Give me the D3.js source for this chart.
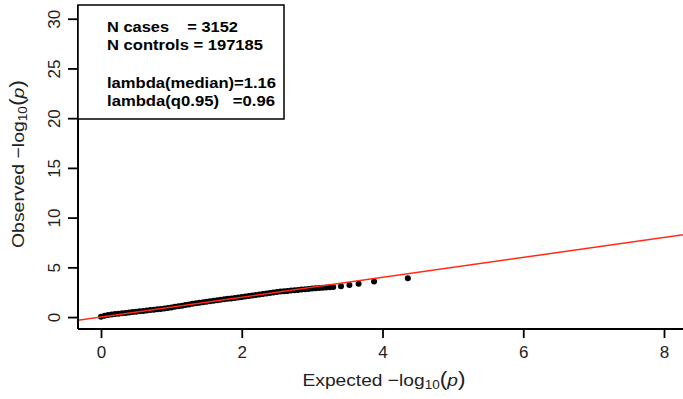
<!DOCTYPE html>
<html>
<head>
<meta charset="utf-8">
<script src="https://cdn.jsdelivr.net/npm/d3@7"></script>
<style>
  body { margin: 0; background: #fff; }
  text { font-family: "Liberation Sans", Arial, Helvetica, sans-serif; }
</style>
</head>
<body>
<div id="chart"></div>
<script>

// expected / observed -log10(p)
var expected = [0.00, 0.05, 0.10, 0.15, 0.20, 0.25, 0.30, 0.35, 0.40, 0.45,
    0.50, 0.55, 0.60, 0.65, 0.70, 0.75, 0.80, 0.85, 0.90, 0.95,
    1.00, 1.05, 1.10, 1.15, 1.20, 1.25, 1.30, 1.35, 1.40, 1.45,
    1.50, 1.55, 1.60, 1.65, 1.70, 1.75, 1.80, 1.85, 1.90, 1.95,
    2.00, 2.05, 2.10, 2.15, 2.20, 2.25, 2.30, 2.35, 2.40, 2.45,
    2.50, 2.55, 2.60, 2.65, 2.70, 2.75, 2.80, 2.85, 2.90, 2.95,
    3.00, 3.05, 3.10, 3.15, 3.20, 3.25, 3.30, 3.41, 3.53, 3.66, 3.88, 4.36];
var observed = [0.02, 0.12, 0.20, 0.25, 0.30, 0.34, 0.38, 0.42, 0.46, 0.50,
    0.54, 0.58, 0.62, 0.66, 0.70, 0.74, 0.78, 0.82, 0.87, 0.92,
    0.97, 1.03, 1.09, 1.15, 1.21, 1.27, 1.33, 1.39, 1.45, 1.50,
    1.55, 1.59, 1.64, 1.68, 1.73, 1.78, 1.83, 1.87, 1.92, 1.97,
    2.02, 2.07, 2.12, 2.17, 2.22, 2.27, 2.32, 2.37, 2.42, 2.47,
    2.52, 2.56, 2.60, 2.63, 2.66, 2.70, 2.73, 2.77, 2.80, 2.83,
    2.86, 2.89, 2.92, 2.95, 2.98, 3.00, 3.03, 3.09, 3.22, 3.34, 3.57, 3.91];

var xTicks = [0, 2, 4, 6, 8];
var yTicks = [0, 5, 10, 15, 20, 25, 30];

var legendLines = ["N cases    = 3152", "N controls = 197185", "", "lambda(median)=1.16", "lambda(q0.95)   =0.96"];

var width = 683, height = 399;
var mLeft = 78, mRight = 683, mTop = 5, mBottom = 329;

var svg = d3.select("#chart").append("svg")
    .attr("width", width)
    .attr("height", height);

var x = d3.scaleLinear().domain([-0.327, 8.27]).range([mLeft, mRight]);
var y = d3.scaleLinear().domain([-1.2, 31.38]).range([mBottom, mTop]);

svg.append("clipPath").attr("id", "plotclip")
    .append("rect")
    .attr("x", mLeft).attr("y", mTop)
    .attr("width", mRight - mLeft).attr("height", mBottom - mTop);

var pts = expected.map(function (e, i) { return { e: e, o: observed[i] } });

// points
svg.append("g")
    .selectAll("circle")
    .data(pts)
    .enter()
    .append("circle")
    .attr("cx", d => x(d.e))
    .attr("cy", d => y(d.o))
    .attr("r", 3)
    .attr("fill", "#000")

// y = x reference line
svg.append("line")
    .attr("clip-path", "url(#plotclip)")
    .attr("x1", x(-1)).attr("y1", y(-1))
    .attr("x2", x(9)).attr("y2", y(9))
    .attr("stroke", "#ff2a1a")
    .attr("stroke-width", 1.5)

// axes (bty = "l")
var xAxis = d3.axisBottom(x).tickValues(xTicks).tickSize(9).tickPadding(6).tickFormat(d3.format("d"));
var gx = svg.append("g").attr("transform", "translate(0," + mBottom + ")").call(xAxis);
gx.select(".domain").attr("d", "M" + mLeft + ",0H" + mRight);

var yAxis = d3.axisLeft(y).tickValues(yTicks).tickSize(10).tickFormat(d3.format("d"));
var gy = svg.append("g").attr("transform", "translate(" + mLeft + ",0)").call(yAxis);
gy.select(".domain").attr("d", "M0," + mTop + "V" + mBottom);

svg.selectAll(".domain").attr("stroke", "#000").attr("stroke-width", 2)
svg.selectAll(".tick line").attr("stroke", "#000").attr("stroke-width", 1.8)
svg.selectAll(".tick text")
    .attr("font-size", "17px")
    .attr("fill", "#222")
    .attr("font-family", "Liberation Sans, Arial, sans-serif")

gy.selectAll(".tick text")
    .attr("x", null).attr("dy", null)
    .attr("text-anchor", "middle")
    .attr("transform", "translate(-18,0) rotate(-90)")

gx.selectAll(".tick text").attr("y", 29).attr("dy", null)

// axis titles
function logTitle(sel, word) {
    sel.append("tspan").text(word + " \u2212log")
    sel.append("tspan").attr("font-size", "12px").attr("dy", "3").text("10")
    sel.append("tspan").attr("dy", "-3").attr("font-size", "20px").text("(")
    sel.append("tspan").attr("font-style", "italic").text("p")
    sel.append("tspan").attr("font-size", "20px").text(")")
}

var xt = svg.append("text")
    .attr("x", 384)
    .attr("y", 386)
    .attr("text-anchor", "middle")
    .attr("font-size", "17px")
    .attr("fill", "#222")
    .attr("textLength", 163)
    .attr("lengthAdjust", "spacingAndGlyphs")
logTitle(xt, "Expected")

var yt = svg.append("text")
    .attr("transform", "translate(24,164) rotate(-90)")
    .attr("text-anchor", "middle")
    .attr("font-size", "17px")
    .attr("fill", "#222")
    .attr("textLength", 168)
    .attr("lengthAdjust", "spacingAndGlyphs")
logTitle(yt, "Observed")

// legend box
var lg = svg.append("g")
lg.append("rect")
    .attr("x", mLeft).attr("y", mTop)
    .attr("width", 206).attr("height", 114)
    .attr("fill", "#fff")
    .attr("stroke", "#000")
    .attr("stroke-width", 1.5)

var lineY = [32, 50, 69, 88, 106];
var lineW = [131, 156, 0, 169, 168];
lg.selectAll("text.leg")
    .data(legendLines)
    .enter()
    .append("text")
    .attr("class", "leg")
    .attr("x", 107)
    .attr("y", (d, i) => lineY[i])
    .attr("font-size", "15.5px")
    .attr("font-weight", "bold")
    .attr("textLength", (d, i) => lineW[i] || null)
    .attr("lengthAdjust", "spacingAndGlyphs")
    .style("white-space", "pre")
    .text(d => d)

</script>
</body>
</html>
